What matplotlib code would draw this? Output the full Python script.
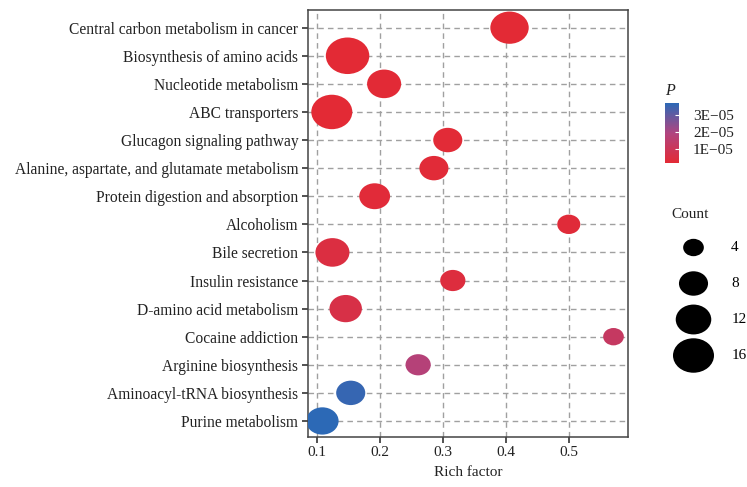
import matplotlib
matplotlib.use("Agg")
import matplotlib.pyplot as plt
import numpy as np
from matplotlib.path import Path
from matplotlib.colors import LinearSegmentedColormap, Normalize

pathways = [
    "Central carbon metabolism in cancer",
    "Biosynthesis of amino acids",
    "Nucleotide metabolism",
    "ABC transporters",
    "Glucagon signaling pathway",
    "Alanine, aspartate, and glutamate metabolism",
    "Protein digestion and absorption",
    "Alcoholism",
    "Bile secretion",
    "Insulin resistance",
    "D-amino acid metabolism",
    "Cocaine addiction",
    "Arginine biosynthesis",
    "Aminoacyl-tRNA biosynthesis",
    "Purine metabolism",
]
rich_factor = [0.406, 0.149, 0.207, 0.124, 0.308, 0.286, 0.192, 0.500,
               0.125, 0.316, 0.146, 0.571, 0.261, 0.154, 0.109]
counts = [14, 18, 11, 16, 8, 8, 9, 5, 11, 6, 10, 4, 6, 8, 10]
p_values = [1.8e-6, 1.7e-6, 2.0e-6, 1.8e-6, 2.2e-6, 2.4e-6, 2.6e-6, 2.8e-6,
            4.5e-6, 4.0e-6, 6.0e-6, 1.2e-5, 1.75e-5, 3.55e-5, 3.7e-5]
legend_counts = [4, 8, 12, 16]
x_ticks = [0.1, 0.2, 0.3, 0.4, 0.5]
cbar_ticks = [1e-5, 2e-5, 3e-5]
cbar_labels = ["1E\u221205", "2E\u221205", "3E\u221205"]

SERIF = ["Liberation Serif", "DejaVu Serif"]
plt.rcParams["font.family"] = SERIF
TXT = "#222222"

cmap = LinearSegmentedColormap.from_list(
    "pcol", ["#E32A35", "#B04480", "#2C69B6"])
norm = Normalize(vmin=min(p_values), vmax=max(p_values))

# ellipse marker (points look a bit stretched horizontally in the source)
circ = Path.unit_circle()
ellipse = Path(circ.vertices * np.array([1.0, 0.84]), circ.codes)


def marker_area(c):
    width_px = np.sqrt(104.5 * c + 10)
    return (width_px * 0.72) ** 2


fig = plt.figure(figsize=(7.47, 4.87), dpi=100)
ax = fig.add_axes([0.4123, 0.1033, 0.4284, 0.8762])

ypos = np.arange(len(pathways), 0, -1)
ax.scatter(rich_factor, ypos, s=[marker_area(c) for c in counts],
           c=p_values, cmap=cmap, norm=norm, marker=ellipse,
           linewidths=0, zorder=3)

ax.set_xlim(0.0862, 0.594)
ax.set_ylim(0.44, 15.63)
ax.set_yticks(ypos)
ax.set_yticklabels(pathways, fontsize=11.2, color=TXT)
ax.set_xticks(x_ticks)
ax.set_xticklabels([f"{v:.1f}" for v in x_ticks], fontsize=11, color=TXT)
ax.set_xlabel("Rich factor", fontsize=11, color=TXT, labelpad=5)
ax.tick_params(axis="both", length=4, width=1.2, color="#333333", pad=3)
ax.grid(True, linestyle=(0, (4, 3)), color="#a0a0a0", linewidth=1.0, zorder=0)
ax.set_axisbelow(True)
for sp in ax.spines.values():
    sp.set_color("#444444")
    sp.set_linewidth(1.1)

# colour bar for P
cax = fig.add_axes([0.890, 0.6653, 0.019, 0.1232])
sm = plt.cm.ScalarMappable(norm=norm, cmap=cmap)
cb = fig.colorbar(sm, cax=cax, ticks=cbar_ticks)
cb.outline.set_visible(False)
cb.ax.set_yticklabels(cbar_labels, fontsize=11, color=TXT)
cb.ax.tick_params(color="white", direction="in", length=3, width=0.8, pad=10)
cax.set_title("P", fontsize=11.5, style="italic", loc="left", pad=6, color=TXT)

# size legend for Count
fig.text(0.924, 0.559, "Count", fontsize=11, color=TXT, ha="center", va="center")
handles = [ax.scatter([], [], s=marker_area(c), color="black", marker=ellipse,
                      linewidths=0) for c in legend_counts]
leg = fig.legend(handles, [str(c) for c in legend_counts],
                 loc="upper left", bbox_to_anchor=(0.893, 0.528),
                 frameon=False, fontsize=11, labelspacing=1.45,
                 handletextpad=1.5, borderpad=0.2)

fig.savefig("out.png", dpi=100)
